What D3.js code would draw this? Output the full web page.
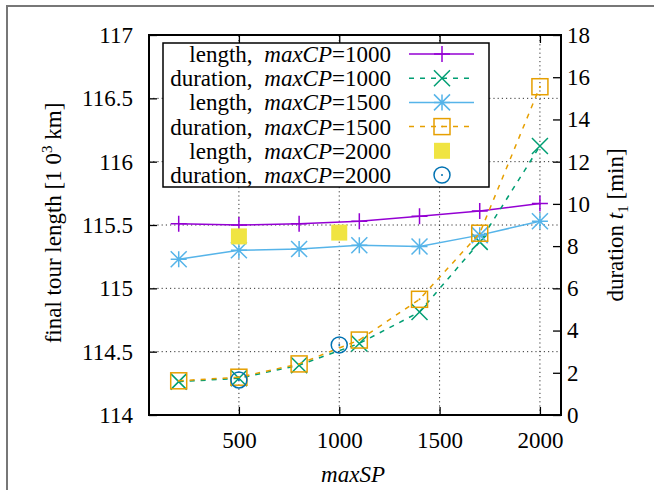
<!DOCTYPE html>
<html>
<head>
<meta charset="utf-8">
<script src="https://cdn.jsdelivr.net/npm/d3@7"></script>
<style>
  html, body { margin: 0; padding: 0; background: #fff; }
  svg { display: block; font-family: "Liberation Serif", "Times New Roman", serif; }
</style>
</head>
<body>
<svg id="chart" width="654" height="490"></svg>
<script>
// ---- data ----
const maxSP = [200, 500, 800, 1100, 1400, 1700, 2000];
const length1000 = [115.51, 115.50, 115.51, 115.53, 115.57, 115.61, 115.67];
const duration1000 = [1.58, 1.74, 2.36, 3.39, 4.88, 8.2, 12.74];
const length1500 = [115.23, 115.30, 115.31, 115.34, 115.33, 115.42, 115.53];
const duration1500 = [1.62, 1.79, 2.42, 3.55, 5.48, 8.61, 15.55];
const maxSP2000 = [500, 1000];
const length2000 = [115.41, 115.44];
const duration2000 = [1.66, 3.32];

const xTicks = [500, 1000, 1500, 2000];
const yLeftTicks = [114, 114.5, 115, 115.5, 116, 116.5, 117];
const yRightTicks = [0, 2, 4, 6, 8, 10, 12, 14, 16, 18];
const legendLabels = ["length, ", "duration, ", "length, ", "duration, ", "length, ", "duration, "];
const legendCP = ["1000", "1000", "1500", "1500", "2000", "2000"];

// ---- layout ----
const L = 149, R = 561, T = 35, B = 415;
const svg = d3.select("#chart");
const x = d3.scaleLinear().domain([52, 2105]).range([L, R]);
const yL = d3.scaleLinear().domain([114, 117]).range([B, T]);
const yR = d3.scaleLinear().domain([0, 18]).range([B, T]);
const FS = 23;

// outer frame
svg.append("rect").attr("x", 7).attr("y", 6).attr("width", 700).attr("height", 600)
  .attr("fill", "none").attr("stroke", "#777").attr("stroke-width", 2);

// grid
const grid = svg.append("g").attr("stroke", "#333").attr("stroke-width", 1).attr("stroke-dasharray", "1.2,3");
grid.selectAll("line.gx").data(xTicks).join("line")
  .attr("x1", d => x(d)).attr("x2", d => x(d)).attr("y1", B).attr("y2", T);
grid.selectAll("line.gy").data(yLeftTicks.slice(1, -1)).join("line")
  .attr("y1", d => yL(d)).attr("y2", d => yL(d)).attr("x1", L).attr("x2", R);

// axes
function styleAxis(g) {
  g.select(".domain").remove();
  g.selectAll(".tick line").attr("stroke", "#000").attr("stroke-width", 1.3);
  g.selectAll(".tick text").attr("font-size", FS).attr("fill", "#000")
    .attr("font-family", "Liberation Serif, Times New Roman, serif");
}
svg.append("g").attr("transform", `translate(0,${B})`)
  .call(d3.axisBottom(x).tickValues(xTicks).tickFormat(d3.format("d")).tickSize(-8).tickPadding(17))
  .call(styleAxis);
svg.append("g").attr("transform", `translate(0,${T})`)
  .call(d3.axisTop(x).tickValues(xTicks).tickFormat("").tickSize(-8))
  .call(styleAxis);
svg.append("g").attr("transform", `translate(${L},0)`)
  .call(d3.axisLeft(yL).tickValues(yLeftTicks).tickFormat(d => String(d)).tickSize(-8).tickPadding(16))
  .call(styleAxis);
svg.append("g").attr("transform", `translate(${R},0)`)
  .call(d3.axisRight(yR).tickValues(yRightTicks).tickFormat(d3.format("d")).tickSize(-8).tickPadding(6))
  .call(styleAxis);

// frame
svg.append("rect").attr("x", L).attr("y", T).attr("width", R - L).attr("height", B - T)
  .attr("fill", "none").attr("stroke", "#000").attr("stroke-width", 2);

// markers
const MS = 8;
function drawMarker(g, type, cx, cy, color) {
  const s = MS;
  if (type === "plus" || type === "star") {
    g.append("path").attr("d", `M${cx - s},${cy}H${cx + s}M${cx},${cy - s}V${cy + s}`)
      .attr("stroke", color).attr("stroke-width", 1.5).attr("fill", "none");
  }
  if (type === "cross" || type === "star") {
    g.append("path").attr("d", `M${cx - s},${cy - s}L${cx + s},${cy + s}M${cx - s},${cy + s}L${cx + s},${cy - s}`)
      .attr("stroke", color).attr("stroke-width", 1.5).attr("fill", "none");
  }
  if (type === "square") {
    g.append("rect").attr("x", cx - s).attr("y", cy - s).attr("width", 2 * s).attr("height", 2 * s)
      .attr("stroke", color).attr("stroke-width", 1.5).attr("fill", "none");
  }
  if (type === "fsquare") {
    g.append("rect").attr("x", cx - s).attr("y", cy - s).attr("width", 2 * s).attr("height", 2 * s)
      .attr("fill", color);
  }
  if (type === "circle") {
    g.append("circle").attr("cx", cx).attr("cy", cy).attr("r", s)
      .attr("stroke", color).attr("stroke-width", 1.5).attr("fill", "none");
  }
  if (type === "star" || type === "square" || type === "circle") {
    g.append("circle").attr("cx", cx).attr("cy", cy).attr("r", type === "star" ? 2 : 1).attr("fill", color);
  }
}

const series = [
  { xs: maxSP, ys: length1000, scale: yL, color: "#9400d3", marker: "plus", dash: null, line: true },
  { xs: maxSP, ys: duration1000, scale: yR, color: "#009e73", marker: "cross", dash: "5,6", line: true },
  { xs: maxSP, ys: length1500, scale: yL, color: "#56b4e9", marker: "star", dash: null, line: true },
  { xs: maxSP, ys: duration1500, scale: yR, color: "#e69f00", marker: "square", dash: "5,6", line: true },
  { xs: maxSP2000, ys: length2000, scale: yL, color: "#f0e442", marker: "fsquare", dash: null, line: false },
  { xs: maxSP2000, ys: duration2000, scale: yR, color: "#0072b2", marker: "circle", dash: null, line: false }
];

const plot = svg.append("g");
series.forEach(s => {
  const pts = s.xs.map((v, i) => [x(v), s.scale(s.ys[i])]);
  const g = plot.append("g");
  if (s.line) {
    g.append("path").attr("d", d3.line()(pts)).attr("fill", "none")
      .attr("stroke", s.color).attr("stroke-width", 1.5)
      .attr("stroke-dasharray", s.dash);
  }
  pts.forEach(p => drawMarker(g, s.marker, p[0], p[1], s.color));
});

// legend
const lg = svg.append("g");
lg.append("rect").attr("x", 163).attr("y", 43).attr("width", 326).attr("height", 144)
  .attr("fill", "#fff").attr("stroke", "#000").attr("stroke-width", 1.5);
series.forEach((s, i) => {
  const cy = 54 + i * 24.2;
  const t = lg.append("text").attr("x", 391).attr("y", cy + 8).attr("text-anchor", "end")
    .attr("font-size", FS).attr("fill", "#000");
  t.append("tspan").text(legendLabels[i]);
  t.append("tspan").attr("dx", 6).attr("font-style", "italic").text("maxCP");
  t.append("tspan").text("=" + legendCP[i]);
  if (s.line) {
    lg.append("line").attr("x1", 409).attr("x2", 474).attr("y1", cy).attr("y2", cy)
      .attr("stroke", s.color).attr("stroke-width", 1.5).attr("stroke-dasharray", s.dash);
  }
  drawMarker(lg, s.marker, 442, cy, s.color);
});

// axis titles
const lt = svg.append("text").attr("transform", "translate(61,223) rotate(-90)")
  .attr("text-anchor", "middle").attr("font-size", FS).attr("fill", "#000");
lt.append("tspan").text("final tour length [1 0");
lt.append("tspan").attr("font-size", 15).attr("dy", -9).text("3");
lt.append("tspan").attr("dy", 9).text(" km]");

const rt = svg.append("text").attr("transform", "translate(623,225) rotate(-90)")
  .attr("text-anchor", "middle").attr("font-size", FS).attr("fill", "#000");
rt.append("tspan").text("duration ");
rt.append("tspan").attr("font-style", "italic").text("t");
rt.append("tspan").attr("font-size", 15).attr("dy", 5).text("1");
rt.append("tspan").attr("dy", -5).text(" [min]");

svg.append("text").attr("x", 353).attr("y", 482).attr("text-anchor", "middle")
  .attr("font-size", FS).attr("font-style", "italic").attr("fill", "#000").text("maxSP");
</script>
</body>
</html>
